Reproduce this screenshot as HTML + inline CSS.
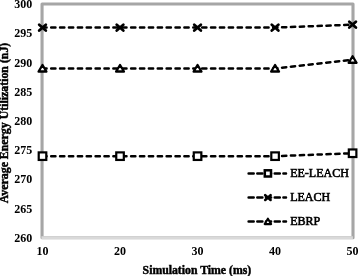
<!DOCTYPE html><html><head><meta charset="utf-8"><style>html,body{margin:0;padding:0;background:#fff;width:358px;height:276px;overflow:hidden}svg{display:block;will-change:transform;filter:blur(0.35px)}text{font-family:"Liberation Serif",serif;fill:#000}</style></head><body>
<svg width="358" height="276" viewBox="0 0 358 276">
<rect width="358" height="276" fill="#fff"/>
<rect x="42.05" y="3.95" width="310.95" height="233.75" fill="none" stroke="#a6a6a6" stroke-width="3.1" stroke-linejoin="round"/>
<line x1="41.4" y1="237.7" x2="352.9" y2="237.7" stroke="#d9d9d9" stroke-width="2.7"/>
<text x="32.3" y="241.90" font-size="12.0" font-weight="bold" text-anchor="end">260</text>
<text x="32.3" y="212.67" font-size="12.0" font-weight="bold" text-anchor="end">265</text>
<text x="32.3" y="183.45" font-size="12.0" font-weight="bold" text-anchor="end">270</text>
<text x="32.3" y="154.22" font-size="12.0" font-weight="bold" text-anchor="end">275</text>
<text x="32.3" y="125.00" font-size="12.0" font-weight="bold" text-anchor="end">280</text>
<text x="32.3" y="95.78" font-size="12.0" font-weight="bold" text-anchor="end">285</text>
<text x="32.3" y="66.55" font-size="12.0" font-weight="bold" text-anchor="end">290</text>
<text x="32.3" y="37.33" font-size="12.0" font-weight="bold" text-anchor="end">295</text>
<text x="32.3" y="8.10" font-size="12.0" font-weight="bold" text-anchor="end">300</text>
<text x="42.50" y="255.3" font-size="12.0" font-weight="bold" text-anchor="middle">10</text>
<text x="120.03" y="255.3" font-size="12.0" font-weight="bold" text-anchor="middle">20</text>
<text x="197.55" y="255.3" font-size="12.0" font-weight="bold" text-anchor="middle">30</text>
<text x="275.07" y="255.3" font-size="12.0" font-weight="bold" text-anchor="middle">40</text>
<text x="352.60" y="255.3" font-size="12.0" font-weight="bold" text-anchor="middle">50</text>
<text x="196.9" y="274.2" font-size="11.75" font-weight="bold" stroke="#000" stroke-width="0.45" text-anchor="middle">Simulation Time (ms)</text>
<text transform="translate(8.4,123.0) rotate(-90)" font-size="11.85" font-weight="bold" stroke="#000" stroke-width="0.45" text-anchor="middle">Average Energy Utilization (nJ)</text>
<polyline points="42.50,156.17 120.03,156.17 197.55,156.17 275.07,156.17 352.60,153.25" fill="none" stroke="#000" stroke-width="2.5" stroke-dasharray="4.28 4.6" stroke-dashoffset="0.2" stroke-linecap="round" stroke-linejoin="round"/>
<polyline points="42.50,27.58 120.03,27.58 197.55,27.58 275.07,27.58 352.60,24.66" fill="none" stroke="#000" stroke-width="2.5" stroke-dasharray="4.28 4.6" stroke-dashoffset="0.2" stroke-linecap="round" stroke-linejoin="round"/>
<polyline points="42.50,68.50 120.03,68.50 197.55,68.50 275.07,68.50 352.60,59.73" fill="none" stroke="#000" stroke-width="2.5" stroke-dasharray="4.28 4.6" stroke-dashoffset="0.2" stroke-linecap="round" stroke-linejoin="round"/>
<rect x="38.72" y="152.39" width="7.56" height="7.56" fill="#fff" stroke="#000" stroke-width="2.20"/>
<rect x="116.25" y="152.39" width="7.56" height="7.56" fill="#fff" stroke="#000" stroke-width="2.20"/>
<rect x="193.77" y="152.39" width="7.56" height="7.56" fill="#fff" stroke="#000" stroke-width="2.20"/>
<rect x="271.30" y="152.39" width="7.56" height="7.56" fill="#fff" stroke="#000" stroke-width="2.20"/>
<rect x="348.82" y="149.47" width="7.56" height="7.56" fill="#fff" stroke="#000" stroke-width="2.20"/>
<path d="M39.20,24.68L45.80,30.48M39.20,30.48L45.80,24.68" stroke="#000" stroke-width="2.80" stroke-linecap="round" fill="none"/>
<path d="M116.73,24.68L123.33,30.48M116.73,30.48L123.33,24.68" stroke="#000" stroke-width="2.80" stroke-linecap="round" fill="none"/>
<path d="M194.25,24.68L200.85,30.48M194.25,30.48L200.85,24.68" stroke="#000" stroke-width="2.80" stroke-linecap="round" fill="none"/>
<path d="M271.77,24.68L278.38,30.48M271.77,30.48L278.38,24.68" stroke="#000" stroke-width="2.80" stroke-linecap="round" fill="none"/>
<path d="M349.30,21.76L355.90,27.56M349.30,27.56L355.90,21.76" stroke="#000" stroke-width="2.80" stroke-linecap="round" fill="none"/>
<path d="M42.50,65.00L46.40,71.50L38.60,71.50Z" fill="#fff" stroke="#000" stroke-width="2.35" stroke-linejoin="round"/>
<path d="M120.03,65.00L123.93,71.50L116.12,71.50Z" fill="#fff" stroke="#000" stroke-width="2.35" stroke-linejoin="round"/>
<path d="M197.55,65.00L201.45,71.50L193.65,71.50Z" fill="#fff" stroke="#000" stroke-width="2.35" stroke-linejoin="round"/>
<path d="M275.07,65.00L278.97,71.50L271.18,71.50Z" fill="#fff" stroke="#000" stroke-width="2.35" stroke-linejoin="round"/>
<path d="M352.60,56.23L356.50,62.73L348.70,62.73Z" fill="#fff" stroke="#000" stroke-width="2.35" stroke-linejoin="round"/>
<line x1="248.6" y1="173.4" x2="286.0" y2="173.4" stroke="#000" stroke-width="2.5" stroke-dasharray="5.1 3.6" stroke-linecap="round"/>
<rect x="264.80" y="170.30" width="6.20" height="6.20" fill="#fff" stroke="#000" stroke-width="2.50"/>
<text x="290.2" y="177.00" font-size="12.0" font-weight="normal" stroke="#000" stroke-width="0.6">EE-LEACH</text>
<line x1="248.6" y1="197.6" x2="286.0" y2="197.6" stroke="#000" stroke-width="2.5" stroke-dasharray="5.1 3.6" stroke-linecap="round"/>
<path d="M265.19,195.22L270.61,199.98M265.19,199.98L270.61,195.22" stroke="#000" stroke-width="2.60" stroke-linecap="round" fill="none"/>
<text x="290.2" y="201.20" font-size="12.0" font-weight="normal" stroke="#000" stroke-width="0.6">LEACH</text>
<line x1="248.6" y1="221.6" x2="286.0" y2="221.6" stroke="#000" stroke-width="2.5" stroke-dasharray="5.1 3.6" stroke-linecap="round"/>
<path d="M267.90,218.73L271.10,224.06L264.70,224.06Z" fill="#fff" stroke="#000" stroke-width="2.15" stroke-linejoin="round"/>
<text x="290.2" y="225.20" font-size="12.0" font-weight="normal" stroke="#000" stroke-width="0.6">EBRP</text>
</svg></body></html>
